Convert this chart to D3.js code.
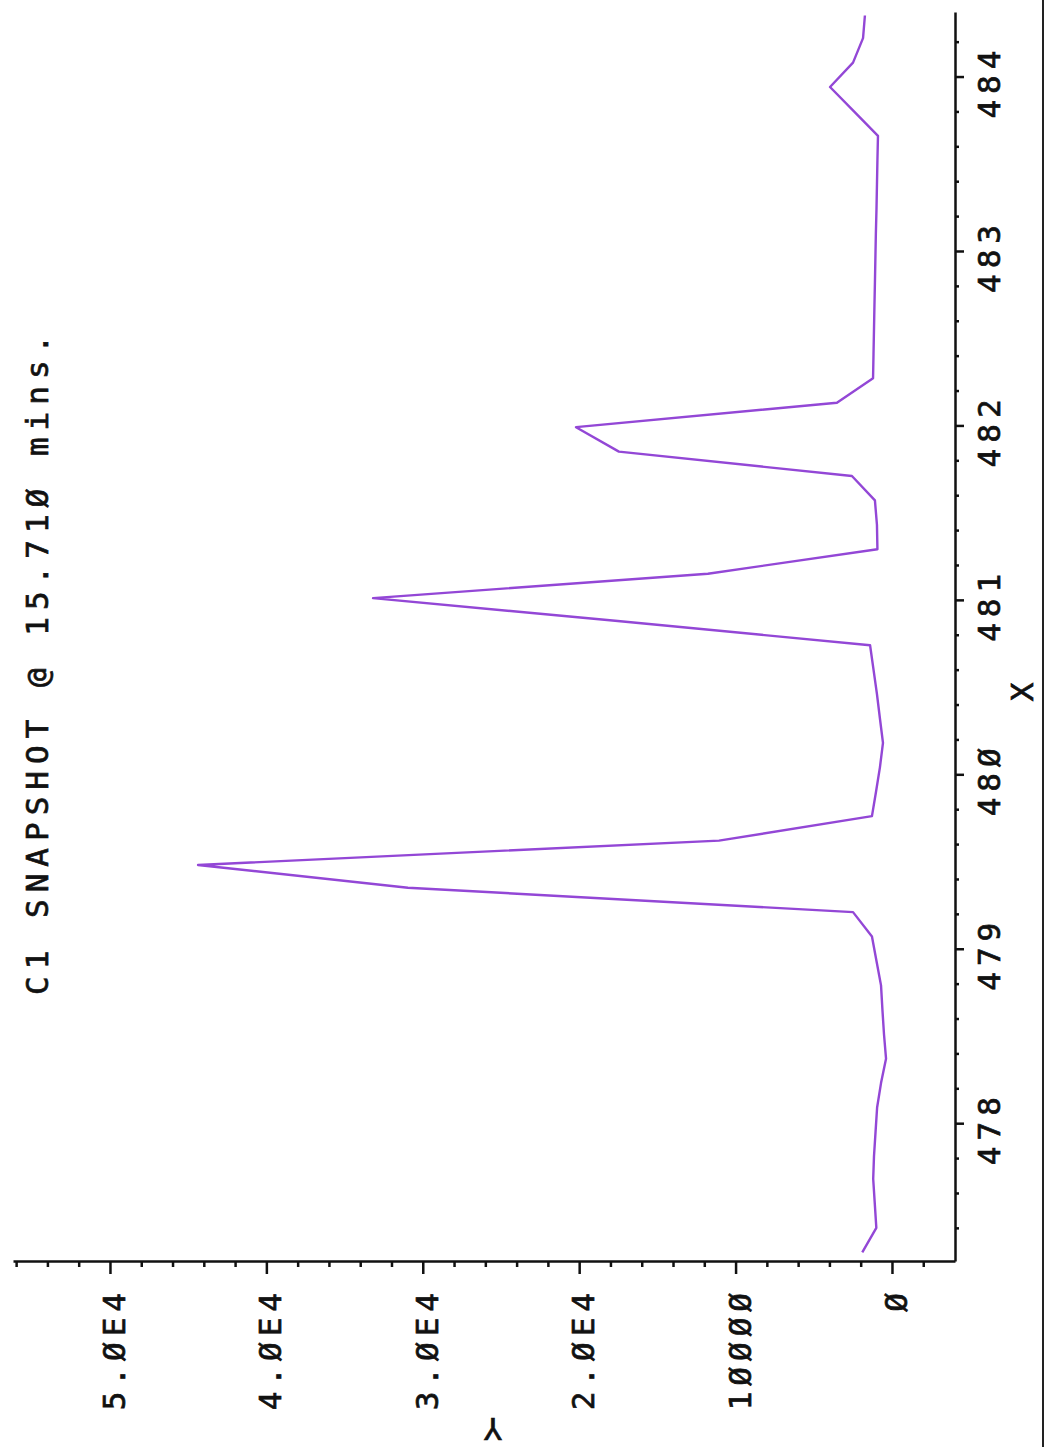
<!DOCTYPE html>
<html>
<head>
<meta charset="utf-8">
<script src="https://cdn.jsdelivr.net/npm/d3@7"></script>
<style>
  body { margin: 0; background: #fff; }
  text { font-family: "DejaVu Sans Mono", monospace; fill: #111; stroke: #111; stroke-width: 0.7; }
</style>
</head>
<body>
<svg id="chart"></svg>
<script>
// mass (x) and counts (y)
const mz = [477.26, 477.40, 477.54, 477.68, 477.81, 477.95, 478.09, 478.23, 478.37, 478.51,
            478.65, 478.79, 478.93, 479.07, 479.21, 479.35, 479.48, 479.62, 479.76, 479.90,
            480.04, 480.18, 480.32, 480.46, 480.60, 480.74, 480.88, 481.01, 481.15, 481.29,
            481.43, 481.57, 481.71, 481.85, 481.99, 482.13, 482.27, 482.41, 482.55, 482.69,
            482.82, 482.96, 483.10, 483.24, 483.38, 483.52, 483.66, 483.80, 483.94, 484.08,
            484.22, 484.35];
const counts = [1900, 1000, 1100, 1200, 1150, 1050, 950, 700, 380, 510,
                610, 700, 990, 1280, 2490, 30950, 44370, 11060, 1280, 1020,
                770, 575, 770, 960, 1180, 1400, 17700, 33180, 11770, 930,
                960, 1090, 2560, 17460, 20200, 3520, 1210, 1180, 1150, 1120,
                1090, 1060, 1030, 990, 960, 930, 895, 2430, 3960, 2490,
                1850, 1730];

const xTicks = [478, 479, 480, 481, 482, 483, 484];
const xTickLabels = ["478", "479", "480", "481", "482", "483", "484"];
const yTicks = [0, 10000, 20000, 30000, 40000, 50000];
const yTickLabels = ["0", "10000", "2.0E4", "3.0E4", "4.0E4", "5.0E4"];
const title = "C1 SNAPSHOT @ 15.710 mins.";

// plotter font draws zeros slashed
const plot0 = s => s.replace(/0/g, "\u00D8");

const W = 1047, H = 1447;
const svg = d3.select('#chart').attr('width', W).attr('height', H);
svg.append('rect').attr('width', W).attr('height', H).attr('fill', '#fff');

// page is turned: x runs up the right side, y runs leftwards along the bottom
const axisX = 955, axisY = 1261;
const x = d3.scaleLinear().domain([477.21, 484.37]).range([axisY, 12]);
const y = d3.scaleLinear().domain([-4030, 56200]).range([axisX, 13]);

const xMinor = d3.range(477.4, 484.3, 0.2).filter(v => Math.abs(v - Math.round(v)) > 0.05);
const yMinor = d3.range(-2000, 56001, 2000).filter(v => v % 10000 !== 0);

// bottom (counts) axis
const gy = svg.append('g').attr('transform', 'translate(0,' + axisY + ')');
gy.call(d3.axisBottom(y).tickValues(yMinor).tickSize(6).tickSizeOuter(0).tickFormat(''));
svg.append('g').attr('transform', 'translate(0,' + axisY + ')')
  .call(d3.axisBottom(y).tickValues(yTicks).tickSize(13).tickSizeOuter(0).tickFormat(''))
  .select('.domain').remove();

// right (mass) axis
const gx = svg.append('g').attr('transform', 'translate(' + axisX + ',0)');
gx.call(d3.axisRight(x).tickValues(xMinor).tickSize(4).tickSizeOuter(0).tickFormat(''));
svg.append('g').attr('transform', 'translate(' + axisX + ',0)')
  .call(d3.axisRight(x).tickValues(xTicks).tickSize(9).tickSizeOuter(0).tickFormat(''))
  .select('.domain').remove();

svg.selectAll('.domain').attr('stroke', '#111').attr('stroke-width', 2.5);
svg.selectAll('.tick line').attr('stroke', '#111').attr('stroke-width', 2.5);

// tick labels, turned with the page
const fs = 31, ls = 6;
svg.append('g').selectAll('text').data(yTicks).enter().append('text')
  .attr('transform', d => 'translate(' + (y(d) + 15) + ',1287) rotate(-90)')
  .attr('text-anchor', 'end')
  .attr('font-size', fs).attr('letter-spacing', ls)
  .text((d, i) => plot0(yTickLabels[i]));

svg.append('g').selectAll('text').data(xTicks).enter().append('text')
  .attr('transform', d => 'translate(1000,' + (x(d) + 5) + ') rotate(-90)')
  .attr('text-anchor', 'middle')
  .attr('font-size', fs).attr('letter-spacing', ls)
  .text((d, i) => plot0(xTickLabels[i]));

// axis titles
svg.append('text')
  .attr('transform', 'translate(1033,692) rotate(-90)')
  .attr('text-anchor', 'middle').attr('font-size', fs)
  .text('X');
svg.append('text')
  .attr('transform', 'translate(493,1418) rotate(180)')
  .attr('text-anchor', 'middle').attr('font-size', fs)
  .text('Y');

// title
svg.append('text')
  .attr('transform', 'translate(48,995) rotate(-90)')
  .attr('font-size', fs).attr('letter-spacing', 7)
  .text(plot0(title));

// edge of the scanned page
svg.append('line')
  .attr('x1', 1043).attr('x2', 1043).attr('y1', 0).attr('y2', H)
  .attr('stroke', '#222').attr('stroke-width', 2);

// the trace
const line = d3.line()
  .x((d, i) => y(counts[i]))
  .y(d => x(d));
svg.append('path')
  .datum(mz)
  .attr('fill', 'none')
  .attr('stroke', '#9347d6')
  .attr('stroke-width', 2.4)
  .attr('stroke-linejoin', 'round')
  .attr('d', line);
</script>
</body>
</html>
